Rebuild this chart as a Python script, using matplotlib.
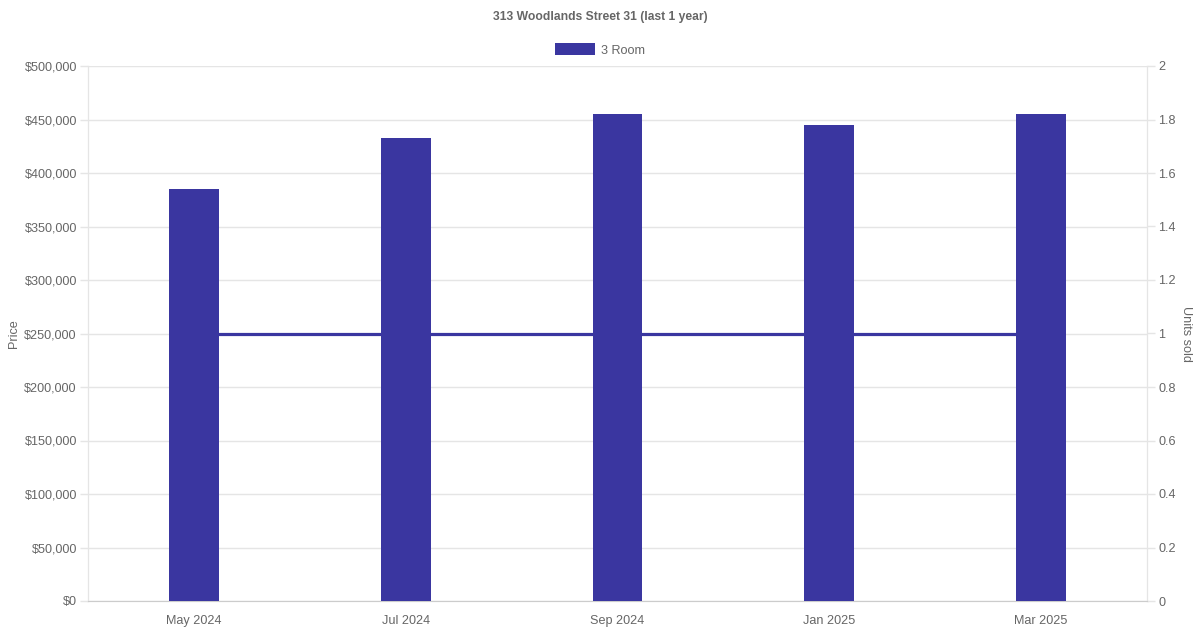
import matplotlib
matplotlib.use("Agg")
import matplotlib.pyplot as plt
from matplotlib.ticker import FuncFormatter, MultipleLocator

plt.rcParams['font.family'] = ['Liberation Sans', 'DejaVu Sans']

months = ["May 2024", "Jul 2024", "Sep 2024", "Jan 2025", "Mar 2025"]
prices = [385000, 433000, 455000, 445000, 455000]
units = [1, 1, 1, 1, 1]
series_name = "3 Room"
title = "313 Woodlands Street 31 (last 1 year)"

color = "#3a36a0"
text_c = "#666666"
grid_c = "#e5e5e5"
fs = 9.1

fig = plt.figure(figsize=(12, 6.3), dpi=100)
ax = fig.add_axes([88/1200, 1 - 601/630, (1147-88)/1200, (601-66)/630])
ax2 = ax.twinx()
ax.set_zorder(ax2.get_zorder() + 1)
ax.patch.set_visible(False)

x = list(range(len(months)))
ax.set_xlim(-0.5, len(months) - 0.5)
ax.set_ylim(0, 500000)
ax2.set_ylim(0, 2)

ax.bar(x, prices, width=0.236, color=color, zorder=3, label=series_name)
ax.plot(x, units, color=color, linewidth=2.3, zorder=2.5, transform=ax2.transData)
ax.set_xlim(-0.5, len(months) - 0.5)
ax.set_ylim(0, 500000)

ax.yaxis.set_major_locator(MultipleLocator(50000))
ax.yaxis.set_major_formatter(FuncFormatter(lambda v, p: f"${v:,.0f}"))
ax2.yaxis.set_major_locator(MultipleLocator(0.2))
ax2.yaxis.set_major_formatter(FuncFormatter(lambda v, p: f"{v:g}"))

ax.set_xticks(x)
ax.set_xticklabels(months)
ax.grid(axis='y', color=grid_c, linewidth=1, zorder=0)
ax.set_axisbelow(True)

for a in (ax, ax2):
    for s in a.spines.values():
        s.set_color(grid_c)
    a.spines['top'].set_visible(False)
    a.tick_params(colors=grid_c, labelcolor=text_c, labelsize=fs, length=6, width=1)
ax.spines['bottom'].set_color("#cccccc")
ax.tick_params(axis='x', length=0, pad=10)
ax.tick_params(axis='y', pad=2)
ax2.tick_params(axis='y', pad=2)

ax.set_ylabel("Price", color=text_c, fontsize=fs, labelpad=3)
ax2.set_ylabel("Units sold", color=text_c, fontsize=fs, rotation=270, labelpad=12)

fig.text(600/1200, 1 - 17/630, title, ha='center', va='center', fontsize=8.7,
         fontweight='bold', color=text_c)
leg = fig.legend(handles=[ax.patches[0]], labels=[series_name], loc='center',
                 bbox_to_anchor=(600/1200, 1 - 50/630), frameon=False,
                 fontsize=fs, handlelength=3.2, handleheight=1.1, handletextpad=0.5,
                 labelcolor=text_c)

fig.savefig("out.png", dpi=100, facecolor="white")
